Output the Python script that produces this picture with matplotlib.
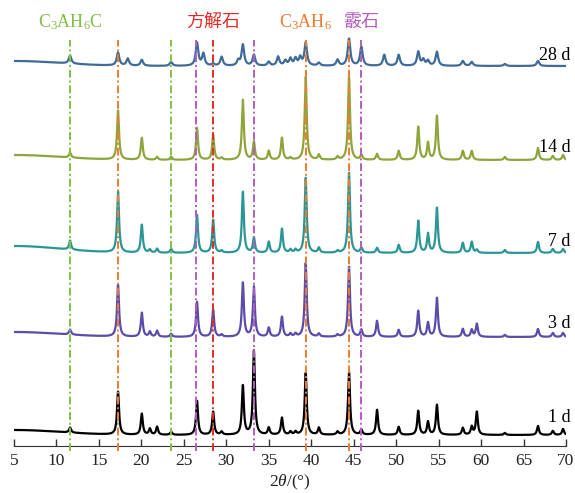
import numpy as np
import matplotlib
matplotlib.use("Agg")
import matplotlib.pyplot as plt

plt.rcParams["font.family"] = ["Liberation Serif", "Noto Sans CJK SC"]
plt.rcParams["mathtext.fontset"] = "custom"
plt.rcParams["mathtext.rm"] = "Liberation Serif"
plt.rcParams["mathtext.it"] = "Liberation Serif:italic"

# peak positions (2theta, deg) and peak heights for each curing age
peak_pos = [11.6, 17.25, 18.4, 20.05, 21.0, 21.85, 23.5, 26.55, 27.3, 28.45, 29.45,
            31.4, 31.95, 33.25, 35.0, 36.1, 36.55, 36.95, 37.55, 38.15, 38.7, 39.35,
            40.9, 43.1, 44.45, 45.9, 47.75, 48.6, 50.3, 52.6, 53.2, 53.75, 54.8,
            57.85, 58.9, 59.5, 62.8, 66.7, 68.45, 69.65]

h_1d = [5, 43, 0, 21, 6, 8, 3, 34, 0, 23, 3,
        0, 49, 84, 7, 0, 17, 0, 3, 3, 0, 62,
        7, 3, 63, 5, 25, 0, 8, 24, 0, 13, 30,
        7, 8, 23, 2, 9, 4, 6]
h_3d = [5, 52, 0, 24, 5, 6, 3, 35, 0, 27, 2,
        0, 54, 50, 9, 0, 20, 0, 3, 3, 0, 74,
        3, 2, 70, 7, 16, 0, 7, 26, 0, 14, 39,
        8, 7, 13, 2, 8, 4, 4]
h_7d = [9, 61, 0, 28, 3, 4, 4, 38, 0, 33, 2,
        0, 61, 15, 11, 0, 24, 0, 3, 3, 0, 75,
        5, 2, 80, 5, 5, 0, 8, 32, 0, 19, 45,
        10, 11, 3, 3, 11, 4, 4]
h_14d = [5, 49, 0, 22, 0, 3, 3, 32, 0, 25, 2,
         0, 60, 18, 9, 0, 22, 0, 2, 0, 0, 83,
         5, 3, 83, 5, 6, 0, 9, 33, 0, 17, 44,
         9, 9, 0, 3, 12, 4, 5]
h_28d = [8, 13, 7, 6, 0, 0, 4, 23, 12, 2, 9,
         5, 21, 11, 4, 9, 0, 5, 7, 7, 8, 23,
         3, 6, 27, 19, 0, 11, 11, 14, 6, 5, 14,
         5, 4, 0, 2, 5, 0, 0]

# low-angle background rise for each age
hump = [5, 5, 7, 5, 5]

ages = ["1 d", "3 d", "7 d", "14 d", "28 d"]
heights = [h_1d, h_3d, h_7d, h_14d, h_28d]
colors = ["#000000", "#5a4ca8", "#2b9696", "#8ea53c", "#3f6b9b"]
offsets = [11, 109, 193, 286, 380]
widths = [0.28, 0.28, 0.28, 0.28, 0.36]
label_dy = [17, 13, 12, 13, 11]

# phase marker lines
phase_names = [r"C$_3$AH$_6$C", "方解石", r"C$_3$AH$_6$", "霰石"]
phase_colors = ["#84bf45", "#e32b25", "#f07a2e", "#b05fbd"]
phase_lines = [[11.6, 23.5], [28.4], [17.25, 39.35, 44.45], [26.4, 33.25, 45.9]]
phase_label_x = [11.6, 28.4, 39.35, 45.9]

x = np.arange(5, 70.001, 0.01)

fig = plt.figure(figsize=(5.75, 4.93), dpi=100)
ax = fig.add_axes([14 / 575, 47 / 493, 552 / 575, 446 / 493])

for i in range(len(ages)):
    y = np.full_like(x, offsets[i], dtype=float)
    y += hump[i] * np.exp(-0.5 * ((x - 5) / 5.5) ** 2)
    hw = widths[i] / 2
    for p, h in zip(peak_pos, heights[i]):
        if h > 0:
            y += h / (1 + ((x - p) / hw) ** 2)
    ax.plot(x, y, color=colors[i], lw=1.6, zorder=2)
    ax.text(70.5, offsets[i] + label_dy[i], ages[i], ha="right", va="center",
            fontsize=13, clip_on=False)

for name, c, xs, lx in zip(phase_names, phase_colors, phase_lines, phase_label_x):
    for xv in xs:
        ax.plot([xv, xv], [-5, 406], color=c, lw=1.4, dashes=(4, 1.5, 1, 1.5),
                clip_on=False, zorder=3)
    ax.text(lx, 424, name, color=c, ha="center", va="center", fontsize=13)

ax.set_xlim(5, 70)
ax.set_ylim(0, 446)
ax.set_xticks(range(5, 71, 5))
ax.set_yticks([])
for s in ["left", "right", "top"]:
    ax.spines[s].set_visible(False)
ax.spines["bottom"].set_color("#333333")
ax.tick_params(axis="x", direction="in", length=5, width=1, colors="#333333",
               labelcolor="#222222", labelsize=12.5, pad=5)
ax.set_xlabel(r"2$\mathit{\theta}$/(°)", fontsize=12.5, labelpad=3, color="#222222")
ax.patch.set_alpha(0)

fig.savefig("out.png", dpi=100)
